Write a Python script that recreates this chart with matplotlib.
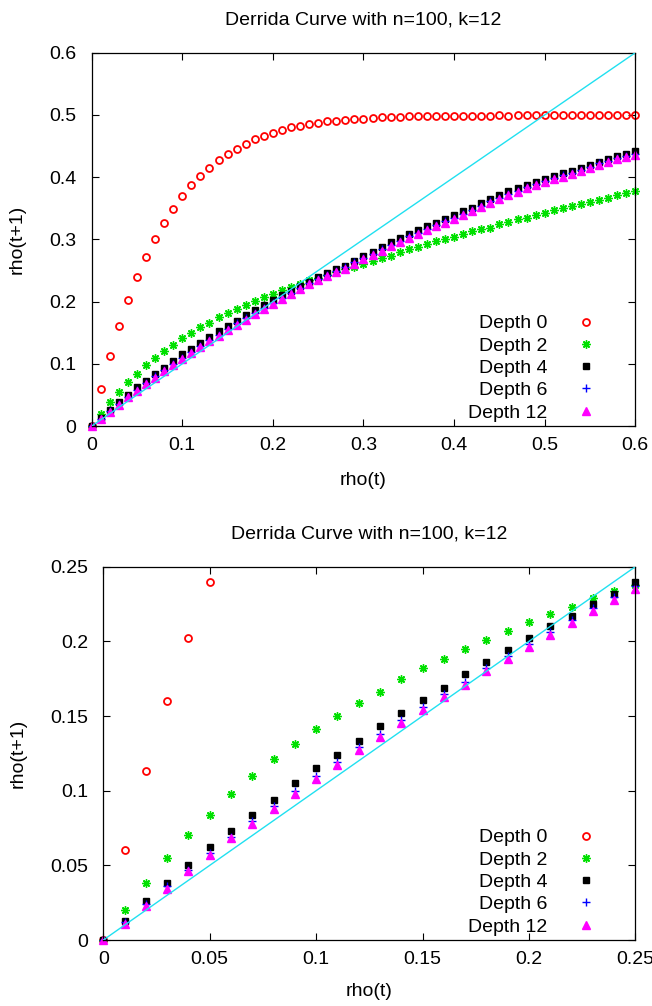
#!/usr/bin/env python3

import numpy as np
import matplotlib
matplotlib.use("Agg")
import matplotlib.pyplot as plt

plt.rcParams["font.family"] = ["Liberation Sans", "DejaVu Sans"]
plt.rcParams["font.size"] = 14

TITLE = "Derrida Curve with n=100, k=12"

# rho(t) grid: 0.00, 0.01, ..., 0.60
rho = np.round(np.linspace(0.0, 0.6, 61), 2)

depth_0 = [
    0.000, 0.060, 0.113, 0.160, 0.202, 0.240, 0.272, 0.301, 0.327, 0.349,
    0.370, 0.387, 0.402, 0.415, 0.427, 0.437, 0.446, 0.454, 0.461, 0.466,
    0.471, 0.475, 0.480, 0.483, 0.485, 0.487, 0.490, 0.491, 0.492, 0.493,
    0.494, 0.495, 0.496, 0.497, 0.497, 0.498, 0.498, 0.498, 0.499, 0.499,
    0.498, 0.499, 0.499, 0.499, 0.499, 0.500, 0.499, 0.500, 0.500, 0.500,
    0.500, 0.500, 0.500, 0.500, 0.500, 0.500, 0.500, 0.500, 0.500, 0.500,
    0.500,
]

depth_2 = [
    0.000, 0.020, 0.038, 0.055, 0.070, 0.084, 0.098, 0.110, 0.121, 0.131,
    0.141, 0.150, 0.159, 0.166, 0.175, 0.182, 0.188, 0.195, 0.201, 0.207,
    0.213, 0.218, 0.223, 0.229, 0.234, 0.238, 0.243, 0.247, 0.252, 0.256,
    0.261, 0.266, 0.270, 0.274, 0.280, 0.284, 0.288, 0.293, 0.298, 0.301,
    0.304, 0.309, 0.313, 0.316, 0.319, 0.324, 0.328, 0.332, 0.335, 0.339,
    0.343, 0.347, 0.350, 0.354, 0.357, 0.360, 0.364, 0.367, 0.371, 0.374,
    0.377,
]

depth_4 = [
    0.000, 0.013, 0.026, 0.038, 0.050, 0.062, 0.073, 0.084, 0.094, 0.105,
    0.115, 0.124, 0.133, 0.143, 0.152, 0.161, 0.169, 0.178, 0.186, 0.194,
    0.202, 0.210, 0.217, 0.225, 0.232, 0.240, 0.246, 0.252, 0.258, 0.266,
    0.273, 0.280, 0.287, 0.295, 0.302, 0.309, 0.315, 0.321, 0.327, 0.332,
    0.339, 0.345, 0.351, 0.358, 0.365, 0.371, 0.377, 0.382, 0.388, 0.392,
    0.397, 0.402, 0.406, 0.410, 0.415, 0.420, 0.425, 0.429, 0.434, 0.437,
    0.442,
]

depth_6 = [
    0.000, 0.012, 0.024, 0.036, 0.047, 0.058, 0.069, 0.080, 0.090, 0.100,
    0.110, 0.119, 0.129, 0.138, 0.147, 0.156, 0.165, 0.173, 0.182, 0.190,
    0.198, 0.206, 0.214, 0.222, 0.230, 0.237, 0.243, 0.249, 0.255, 0.263,
    0.270, 0.277, 0.284, 0.291, 0.298, 0.305, 0.311, 0.317, 0.323, 0.329,
    0.335, 0.341, 0.347, 0.354, 0.361, 0.367, 0.373, 0.378, 0.384, 0.389,
    0.394, 0.399, 0.403, 0.407, 0.412, 0.417, 0.422, 0.426, 0.431, 0.434,
    0.438,
]

depth_12 = [
    0.000, 0.011, 0.023, 0.034, 0.046, 0.057, 0.068, 0.078, 0.088, 0.098,
    0.108, 0.117, 0.127, 0.136, 0.145, 0.154, 0.163, 0.171, 0.180, 0.188,
    0.196, 0.204, 0.212, 0.220, 0.228, 0.235, 0.241, 0.247, 0.253, 0.261,
    0.268, 0.275, 0.282, 0.289, 0.296, 0.303, 0.309, 0.315, 0.321, 0.327,
    0.333, 0.339, 0.345, 0.352, 0.359, 0.365, 0.371, 0.376, 0.382, 0.387,
    0.392, 0.397, 0.401, 0.405, 0.410, 0.415, 0.420, 0.424, 0.429, 0.432,
    0.436,
]

SERIES = [
    ("Depth 0", depth_0, dict(marker="o", mfc="none", mec="#ff0000", mew=1.3, ms=5)),
    ("Depth 2", depth_2, dict(marker=(8, 2, 0), color="#00e000", mec="#00e000", mew=1.0, ms=6)),
    ("Depth 4", depth_4, dict(marker="s", color="#000000", ms=5)),
    ("Depth 6", depth_6, dict(marker="+", color="#0000ff", mew=1.0, ms=5.5)),
    ("Depth 12", depth_12, dict(marker="^", color="#ff00ff", ms=5.5)),
]


def draw_panel(ax, limit, ticks, legend_x):
    x = np.asarray(rho)
    for label, values, style in SERIES:
        y = np.asarray(values)
        keep = (x <= limit + 1e-9) & (y <= limit + 1e-9)
        ax.plot(x[keep], y[keep], linestyle="none", label=label,
                clip_on=False, **style)

    # identity line rho(t+1) = rho(t)
    ax.plot([0, limit], [0, limit], color="#20e0f0", linewidth=1.0, zorder=5)

    ax.set_xlim(0, limit)
    ax.set_ylim(0, limit)
    ax.set_xticks(ticks)
    ax.set_yticks(ticks)
    ax.set_xticklabels([f"{t:g}" for t in ticks])
    ax.set_yticklabels([f"{t:g}" for t in ticks])
    ax.tick_params(direction="in", length=5, width=0.8, top=True, right=True)
    ax.tick_params(axis="y", pad=11)
    ax.tick_params(axis="x", pad=8)
    for spine in ax.spines.values():
        spine.set_linewidth(0.9)

    ax.set_title(TITLE, pad=20, fontsize=14)
    ax.set_xlabel("rho(t)")
    ax.set_ylabel("rho(t+1)")

    ax.legend(
        loc="lower right",
        bbox_to_anchor=(legend_x, 0.012),
        markerfirst=False,
        frameon=False,
        borderpad=0,
        borderaxespad=0,
        handlelength=2.0,
        handletextpad=1.0,
        labelspacing=0.24,
        numpoints=1,
    )


def main():
    fig = plt.figure(figsize=(6.52, 10.06), dpi=100)

    ax_top = fig.add_axes([0.1406, 0.5765, 0.8338, 0.3711])
    draw_panel(ax_top, 0.6, [0, 0.1, 0.2, 0.3, 0.4, 0.5, 0.6], 0.9457)
    ax_top.xaxis.set_label_coords(0.5, -0.123)
    ax_top.yaxis.set_label_coords(-0.121, 0.5)

    ax_bot = fig.add_axes([0.1585, 0.0656, 0.8160, 0.3711])
    draw_panel(ax_bot, 0.25, [0, 0.05, 0.1, 0.15, 0.2, 0.25], 0.9445)
    ax_bot.xaxis.set_label_coords(0.5, -0.115)
    ax_bot.yaxis.set_label_coords(-0.145, 0.5)

    fig.savefig("out.png", dpi=100)
    plt.close(fig)


if __name__ == "__main__":
    main()
